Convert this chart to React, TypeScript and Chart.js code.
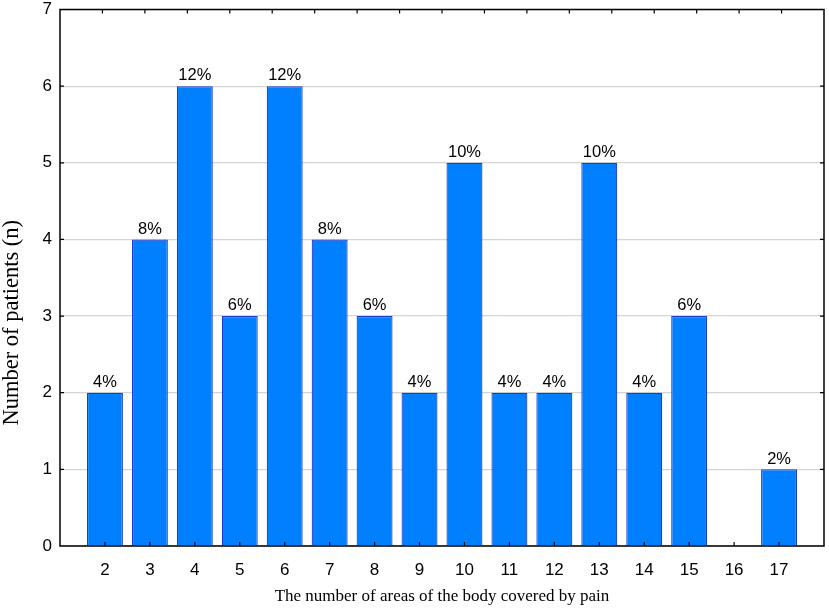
import { useEffect, useRef } from 'react'
import { Chart, registerables } from 'chart.js'

Chart.register(...registerables)

// ─── data ──────────────────────────────────────────────────────────────────────
const CATEGORIES = ['2', '3', '4', '5', '6', '7', '8', '9', '10', '11', '12', '13', '14', '15', '16', '17']
const PATIENTS = [2, 4, 6, 3, 6, 4, 3, 2, 5, 2, 2, 5, 2, 3, 0, 1]
const PERCENTS = ['4%', '8%', '12%', '6%', '12%', '8%', '6%', '4%', '10%', '4%', '4%', '10%', '4%', '6%', '', '2%']
// the top frame axis has its own, finer division (0..18)
const TOP_TICKS = ['0', '1', '2', '3', '4', '5', '6', '7', '8', '9', '10', '11', '12', '13', '14', '15', '16', '17', '18']
const Y_TITLE = 'Number of patients (n)'

const SANS = '"Liberation Sans", Arial, sans-serif'
const SERIF = '"Liberation Serif", "Times New Roman", serif'
const TICK_LEN = 4

// frame round the plot with inward ticks, like the original Statistica plot
const framePlugin = {
  id: 'frame',
  afterDraw(chart: any) {
    const { ctx, chartArea: a, scales } = chart
    ctx.save()
    ctx.strokeStyle = '#000'
    ctx.lineWidth = 1.2
    ctx.beginPath()
    // bottom ticks at labelled categories
    scales.x.ticks.forEach((t: any, i: number) => {
      if (!t.label) return
      const px = scales.x.getPixelForTick(i)
      ctx.moveTo(px, a.bottom)
      ctx.lineTo(px, a.bottom - TICK_LEN)
    })
    // top ticks
    scales.x2.ticks.forEach((_t: any, i: number) => {
      if (i === 0 || i === scales.x2.ticks.length - 1) return
      const px = scales.x2.getPixelForTick(i)
      ctx.moveTo(px, a.top)
      ctx.lineTo(px, a.top + TICK_LEN)
    })
    // left + right ticks
    scales.y.ticks.forEach((_t: any, i: number) => {
      if (i === 0 || i === scales.y.ticks.length - 1) return
      const py = scales.y.getPixelForTick(i)
      ctx.moveTo(a.left, py)
      ctx.lineTo(a.left + TICK_LEN, py)
      ctx.moveTo(a.right, py)
      ctx.lineTo(a.right - TICK_LEN, py)
    })
    ctx.stroke()
    ctx.lineWidth = 1.5
    ctx.strokeRect(a.left, a.top, a.right - a.left, a.bottom - a.top)

    // y title — in the original it sits below the middle of the axis
    ctx.translate(18, (a.top + a.bottom) / 2 + 45)
    ctx.rotate(-Math.PI / 2)
    ctx.fillStyle = '#000'
    ctx.font = `22.5px ${SERIF}`
    ctx.textAlign = 'center'
    ctx.textBaseline = 'alphabetic'
    ctx.fillText(Y_TITLE, 0, 0)
    ctx.restore()
  },
}

// percentage over each bar
const pctPlugin = {
  id: 'pct',
  afterDatasetsDraw(chart: any) {
    const { ctx } = chart
    const meta = chart.getDatasetMeta(0)
    ctx.save()
    ctx.fillStyle = '#000'
    ctx.font = `16.5px ${SANS}`
    ctx.textAlign = 'center'
    ctx.textBaseline = 'bottom'
    meta.data.forEach((bar: any, i: number) => {
      const txt = PERCENTS[i - 1]
      if (!txt) return
      ctx.fillText(txt, bar.x, bar.y - 2)
    })
    ctx.restore()
  },
}

export default function App() {
  const canvasRef = useRef<HTMLCanvasElement>(null)

  useEffect(() => {
    const canvas = canvasRef.current
    if (!canvas) return
    const chart = new Chart(canvas, {
      type: 'bar',
      data: {
        labels: ['', ...CATEGORIES, ''],
        datasets: [
          {
            data: [null, ...PATIENTS, null],
            backgroundColor: '#0080ff',
            borderColor: '#1c3cc8',
            borderWidth: 1.2,
            categoryPercentage: 0.8,
            barPercentage: 1,
            xAxisID: 'x',
          },
        ],
      },
      options: {
        responsive: true,
        maintainAspectRatio: false,
        animation: false,
        layout: { padding: { top: 9.5, right: 5, left: 0, bottom: 0 } },
        plugins: {
          legend: { display: false },
          tooltip: { enabled: false },
        },
        scales: {
          x: {
            type: 'category',
            offset: false,
            grid: { display: false },
            border: { display: false },
            ticks: { color: '#000', font: { family: SANS, size: 17 }, padding: 6, autoSkip: false, maxRotation: 0 },
            title: {
              display: true,
              text: 'The number of areas of the body covered by pain',
              color: '#000',
              font: { family: SERIF, size: 17 },
              padding: { top: 0, bottom: 4 },
            },
            afterFit: (s: any) => {
              s.height = 65
              s.paddingLeft = 0
              s.paddingRight = 0
            },
          },
          x2: {
            type: 'category',
            position: 'top',
            labels: TOP_TICKS,
            offset: false,
            grid: { display: false },
            border: { display: false },
            ticks: { display: false },
            afterFit: (s: any) => {
              s.height = 0
            },
          },
          y: {
            min: 0,
            max: 7,
            ticks: { stepSize: 1, color: '#000', font: { family: SANS, size: 17 }, padding: 8 },
            grid: { color: '#d4d4d4', lineWidth: 1.2, drawTicks: false },
            border: { display: false },
            afterFit: (s: any) => {
              s.width = 60
              s.paddingTop = 0
              s.paddingBottom = 0
            },
          },
        },
      },
      plugins: [framePlugin, pctPlugin],
    })
    return () => chart.destroy()
  }, [])

  return (
    <div style={{ position: 'absolute', left: 0, top: 0, width: 829, height: 611, background: '#fff' }}>
      <canvas ref={canvasRef} />
    </div>
  )
}
